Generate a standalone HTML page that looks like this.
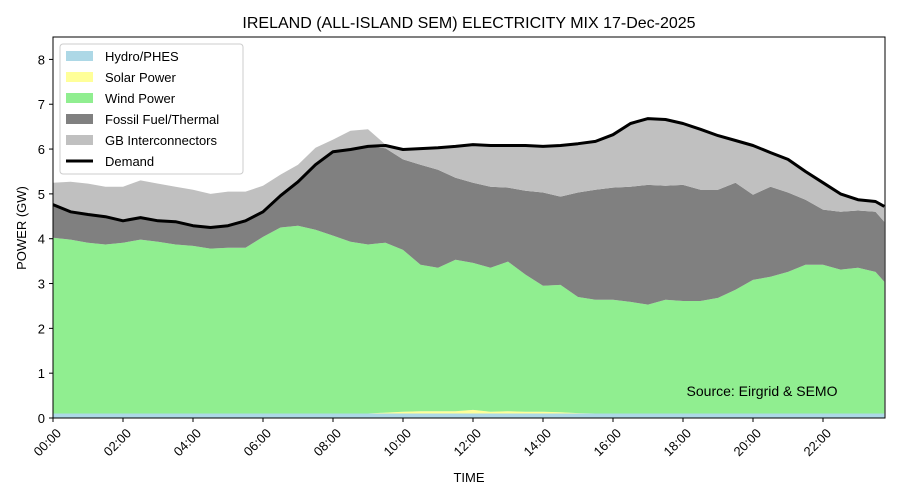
<!DOCTYPE html>
<html><head><meta charset="utf-8"><style>
body{margin:0;background:#fff;}
svg{display:block;font-family:"Liberation Sans","DejaVu Sans",sans-serif;}
</style></head><body>
<svg id="chart" width="900" height="500" viewBox="0 0 900 500">
<rect x="0" y="0" width="900" height="500" fill="#fff"/>
<text x="469" y="28" font-size="16" text-anchor="middle">IRELAND (ALL-ISLAND SEM) ELECTRICITY MIX 17-Dec-2025</text>
<g id="areas"></g>
<g id="axes"></g>
<text x="762" y="396" font-size="14" text-anchor="middle">Source: Eirgrid &amp; SEMO</text>
<text x="469" y="482" font-size="13" text-anchor="middle">TIME</text>
<text x="26" y="228" font-size="13" text-anchor="middle" transform="rotate(-90 26 228)">POWER (GW)</text>
<g id="legend">
<rect x="60" y="44" width="183" height="130" rx="3" fill="#fff" fill-opacity="0.8" stroke="#ccc"/>
</g>
</svg>
<script>
const times=[];for(let i=0;i<48;i++)times.push(i*0.5);times.push(23.75);
const hydro=[0.1,0.1,0.1,0.1,0.1,0.1,0.1,0.1,0.1,0.1,0.1,0.1,0.1,0.1,0.1,0.1,0.1,0.1,0.1,0.1,0.1,0.1,0.1,0.1,0.1,0.1,0.1,0.1,0.1,0.1,0.1,0.1,0.1,0.1,0.1,0.1,0.1,0.1,0.1,0.1,0.1,0.1,0.1,0.1,0.1,0.1,0.1,0.1,0.1];
const solar=[0,0,0,0,0,0,0,0,0,0,0,0,0,0,0,0,0,0,0,0.02,0.04,0.05,0.05,0.05,0.08,0.04,0.05,0.04,0.04,0.03,0.01,0,0,0,0,0,0,0,0,0,0,0,0,0,0,0,0,0,0];
const wind=[3.92,3.88,3.81,3.77,3.81,3.88,3.83,3.77,3.74,3.68,3.70,3.70,3.94,4.15,4.19,4.10,3.97,3.83,3.77,3.79,3.61,3.27,3.20,3.38,3.28,3.21,3.34,3.06,2.81,2.84,2.59,2.54,2.54,2.49,2.43,2.54,2.51,2.51,2.58,2.76,2.98,3.05,3.16,3.32,3.32,3.21,3.25,3.16,2.94];
const fossil=[0.74,0.62,0.63,0.62,0.49,0.49,0.47,0.51,0.45,0.47,0.49,0.60,0.56,0.71,0.98,1.45,1.87,2.06,2.19,2.11,2.02,2.23,2.19,1.83,1.79,1.81,1.65,1.87,2.08,1.97,2.33,2.45,2.50,2.57,2.67,2.54,2.59,2.48,2.41,2.39,1.90,2.01,1.77,1.45,1.23,1.29,1.28,1.34,1.34];
const inter=[0.49,0.67,0.69,0.67,0.76,0.83,0.83,0.78,0.80,0.75,0.76,0.65,0.58,0.47,0.38,0.38,0.27,0.42,0.38,0.08,0.22,0.36,0.49,0.70,0.85,0.92,0.94,1.01,1.03,1.14,1.09,1.08,1.18,1.41,1.48,1.48,1.37,1.35,1.21,0.94,1.10,0.76,0.74,0.63,0.60,0.40,0.24,0.23,0.34];
const demand=[4.76,4.60,4.54,4.49,4.40,4.47,4.40,4.38,4.29,4.25,4.29,4.40,4.60,4.96,5.27,5.65,5.94,5.99,6.06,6.08,5.99,6.01,6.03,6.06,6.10,6.08,6.08,6.08,6.06,6.08,6.12,6.17,6.32,6.57,6.68,6.66,6.57,6.44,6.30,6.19,6.08,5.92,5.77,5.50,5.25,5.00,4.87,4.83,4.72];
const yTicks=[0,1,2,3,4,5,6,7,8];
const xTicks=["00:00","02:00","04:00","06:00","08:00","10:00","12:00","14:00","16:00","18:00","20:00","22:00"];
const X0=53,X1=885,Y0=418,Y1=37,YMAX=8.5;
const xs=h=>X0+h*35;
const ys=v=>Y0-(v/YMAX)*(Y0-Y1);
const NS="http://www.w3.org/2000/svg";
const mk=(t,a,p)=>{const e=document.createElementNS(NS,t);for(const k in a)e.setAttribute(k,a[k]);p.appendChild(e);return e;};
const areas=document.getElementById('areas'),axes=document.getElementById('axes'),legend=document.getElementById('legend');
const series=[["hydro",hydro,"#add8e6","Hydro/PHES"],["solar",solar,"#ffff99","Solar Power"],["wind",wind,"#90ee90","Wind Power"],["fossil",fossil,"#808080","Fossil Fuel/Thermal"],["gb-interconnectors",inter,"#c0c0c0","GB Interconnectors"]];
let base=times.map(()=>0);
series.forEach(([n,vals,col])=>{
  const top=base.map((b,i)=>b+vals[i]);
  let d="M"+times.map((t,i)=>xs(t).toFixed(1)+","+ys(top[i]).toFixed(1)).join("L");
  for(let i=times.length-1;i>=0;i--)d+="L"+xs(times[i]).toFixed(1)+","+ys(base[i]).toFixed(1);
  const p=mk('path',{d:d+"Z",fill:col,stroke:"none"},areas);
  
  
  base=top;
});
const dl=mk('path',{d:"M"+times.map((t,i)=>xs(t).toFixed(1)+","+ys(demand[i]).toFixed(1)).join("L"),fill:"none",stroke:"#000","stroke-width":3,"stroke-linejoin":"round"},areas);


const fr=mk('rect',{x:X0,y:Y1,width:X1-X0,height:Y0-Y1,fill:"none",stroke:"#000","stroke-width":1},axes);


yTicks.forEach(v=>{
  mk('line',{x1:X0-4,x2:X0,y1:ys(v),y2:ys(v),stroke:"#000"},axes);
  const t=mk('text',{x:X0-8,y:ys(v)+5,"font-size":13,"text-anchor":"end"},axes);t.textContent=v;
  
  
});
xTicks.forEach((lab,i)=>{
  const x=xs(i*2);
  mk('line',{x1:x,x2:x,y1:Y0,y2:Y0+4,stroke:"#000"},axes);
  const ax=x+9,ay=Y0+16;
  const t=mk('text',{x:ax,y:ay,"font-size":13,"text-anchor":"end",transform:`rotate(-45 ${ax} ${ay})`},axes);t.textContent=lab;
  
  
});
const leg=[...series.map(s=>[s[2],s[3],'patch']),["#000","Demand",'line']];
leg.forEach(([c,lab,kind],i)=>{
  const y=56+i*21;
  if(kind==='patch')mk('rect',{x:66,y:y-5,width:27,height:10,fill:c},legend);
  else mk('line',{x1:66,x2:93,y1:y,y2:y,stroke:c,"stroke-width":3},legend);
  const t=mk('text',{x:105,y:y+5,"font-size":13},legend);t.textContent=lab;
  
  
});
</script>
</body></html>
